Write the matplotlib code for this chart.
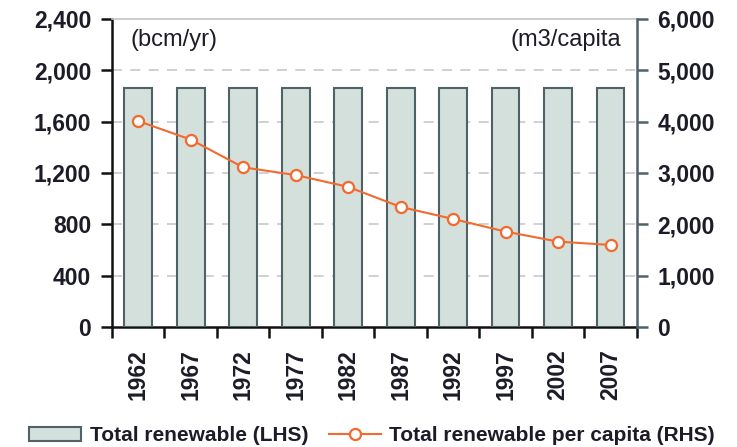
import matplotlib
matplotlib.use('Agg')
import matplotlib.pyplot as plt
from matplotlib.patches import Patch
from matplotlib.lines import Line2D

years = ['1962', '1967', '1972', '1977', '1982', '1987', '1992', '1997', '2002', '2007']
total_renewable = [1862, 1862, 1862, 1862, 1862, 1862, 1862, 1862, 1862, 1862]
per_capita = [4010, 3650, 3110, 2960, 2730, 2340, 2105, 1860, 1665, 1600]

plt.rcParams['font.family'] = ['Liberation Sans', 'DejaVu Sans']
txt = '#1c1c28'
bar_face = '#d3e0db'
bar_edge = '#4e6268'
orange = '#f26a2e'

fig = plt.figure(figsize=(7.37, 4.47), dpi=100)
ax = fig.add_axes([0.152, 0.268, 0.712, 0.690])
x = list(range(len(years)))

ax.bar(x, total_renewable, width=0.53, color=bar_face, edgecolor=bar_edge, linewidth=1.5, zorder=3)
ax.set_ylim(0, 2400)
ax.set_xlim(-0.5, len(years) - 0.5)
ax.set_yticks(range(0, 2401, 400))
ax.set_yticklabels([f'{v:,}' for v in range(0, 2401, 400)])
for v in range(400, 2001, 400):
    ax.axhline(v, color='#c8c8c8', lw=1.2, ls=(0, (6, 5)), zorder=1)

ax.set_xticks([i - 0.5 for i in range(len(years) + 1)])
ax.set_xticklabels([])
ax.set_xticks(x, minor=True)
ax.set_xticklabels(years, minor=True, rotation=90, fontsize=16.5, fontweight='bold', color=txt)
ax.tick_params(axis='x', which='minor', length=0, pad=16)
ax.tick_params(axis='x', which='major', length=8, width=1.8, color='#111111', direction='out')
ax.tick_params(axis='y', length=8, width=1.8, color='#111111', labelsize=16.5, labelcolor=txt, pad=7)
for lab in ax.get_yticklabels():
    lab.set_fontweight('bold')

ax.spines['left'].set_color('#111111')
ax.spines['left'].set_linewidth(1.8)
ax.spines['bottom'].set_color('#111111')
ax.spines['bottom'].set_linewidth(1.8)
ax.spines['top'].set_color('#c4c4c4')
ax.spines['top'].set_linewidth(1.2)
ax.spines['right'].set_visible(False)

ax2 = ax.twinx()
ax2.plot(x, per_capita, color=orange, lw=1.5, marker='o', ms=8, mfc='white', mec=orange, mew=1.6, zorder=5)
ax2.set_ylim(0, 6000)
ax2.set_yticks(range(0, 6001, 1000))
ax2.set_yticklabels([f'{v:,}' for v in range(0, 6001, 1000)])
ax2.tick_params(axis='y', length=8, width=1.8, color='#4e6268', labelsize=16.5, labelcolor=txt, pad=7)
for lab in ax2.get_yticklabels():
    lab.set_fontweight('bold')
for s in ['left', 'top', 'bottom']:
    ax2.spines[s].set_visible(False)
ax2.spines['right'].set_color('#4e6268')
ax2.spines['right'].set_linewidth(1.8)

ax.text(0.035, 0.93, '(bcm/yr)', transform=ax.transAxes, fontsize=17, color=txt, va='center', ha='left')
ax.text(0.97, 0.93, '(m3/capita', transform=ax.transAxes, fontsize=17, color=txt, va='center', ha='right')

handles = [Patch(facecolor=bar_face, edgecolor=bar_edge, linewidth=1.5),
           Line2D([0], [0], color=orange, lw=1.5, marker='o', ms=8, mfc='white', mec=orange, mew=1.6)]
fig.legend(handles, ['Total renewable (LHS)', 'Total renewable per capita (RHS)'],
           loc='center', bbox_to_anchor=(0.505, 0.025), ncol=2, frameon=False,
           handlelength=2.5, handleheight=0.7, handletextpad=0.4, columnspacing=1.0,
           prop={'size': 15, 'weight': 'bold'}, labelcolor=txt, borderpad=0)

fig.savefig('out.png', dpi=100)
